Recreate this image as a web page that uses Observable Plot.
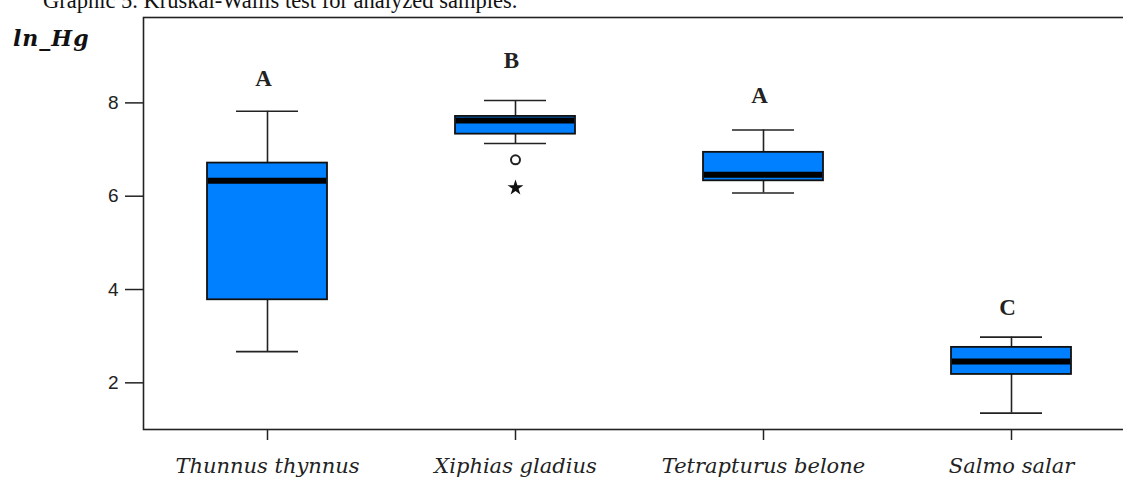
<!DOCTYPE html>
<html><head><meta charset="utf-8">
<script src="https://cdn.jsdelivr.net/npm/d3@7"></script>
<script src="https://cdn.jsdelivr.net/npm/@observablehq/plot@0.6"></script>
<style>
html,body{margin:0;padding:0;background:#fff;overflow:hidden;}
#wrap{position:relative;width:1123px;height:484px;overflow:hidden;background:#fff;}
#chart{position:absolute;left:0;top:0;width:1140px;}
#chart svg{max-width:none !important;width:1140px !important;height:484px !important;}
#title{position:absolute;left:43px;top:-10px;font-family:"Liberation Serif",serif;font-size:22.5px;line-height:22px;white-space:nowrap;color:#111;}
#ylab{position:absolute;left:13px;top:27px;font-family:"DejaVu Serif",serif;font-weight:bold;font-style:italic;font-size:22px;line-height:22px;letter-spacing:1px;white-space:nowrap;color:#111;}
</style></head>
<body>
<div id="wrap">
  <div id="chart"></div>
  <div id="title">Graphic 5. Kruskal-Wallis test for analyzed samples.</div>
  <div id="ylab">ln_Hg</div>
</div>
<script>
// Data
const species = ["Thunnus thynnus", "Xiphias gladius", "Tetrapturus belone", "Salmo salar"];
const whiskerLow  = [2.67, 7.13, 6.07, 1.35];
const q1          = [3.78, 7.33, 6.33, 2.18];
const median      = [6.33, 7.62, 6.46, 2.46];
const q3          = [6.71, 7.71, 6.94, 2.76];
const whiskerHigh = [7.82, 8.05, 7.42, 2.98];
const groupLetters = ["A", "B", "A", "C"];
const letterY      = [8.53, 8.90, 8.15, 3.62];
const outlierSpecies = ["Xiphias gladius"];
const outlierValues  = [6.78];
const extremeSpecies = ["Xiphias gladius"];
const extremeValues  = [6.18];
const yTicks = [2, 4, 6, 8];
const yDomain = [1, 9.83];

const boxes = species.map((s, i) => ({
  species: s, lo: whiskerLow[i], q1: q1[i], med: median[i], q3: q3[i], hi: whiskerHigh[i],
  letter: groupLetters[i], ly: letterY[i]
}));
const outliers = outlierSpecies.map((s, i) => ({species: s, value: outlierValues[i]}));
const extremes = extremeSpecies.map((s, i) => ({species: s, value: extremeValues[i]}));

const chart = Plot.plot({
  width: 1140,
  height: 484,
  marginLeft: 143,
  marginRight: 5,
  marginTop: 17,
  marginBottom: 55,
  style: {color: "#222", background: "transparent", maxWidth: "none"},
  x: {domain: species, padding: 0, label: null},
  y: {domain: yDomain, label: null},
  marks: [
    Plot.frame({stroke: "#222", strokeWidth: 1.6}),
    Plot.axisY({ticks: yTicks, tickSize: 18, tickPadding: 7, fontSize: 19, fontFamily: "Liberation Sans, Arial, sans-serif", strokeWidth: 1.5, label: null}),
    Plot.axisX({tickSize: 11, tickPadding: 18, fontSize: 21, fontFamily: "DejaVu Serif, serif", fontStyle: "italic", strokeWidth: 1.5, label: null}),
    Plot.ruleX(boxes, {x: "species", y1: "lo", y2: "q1", stroke: "#222", strokeWidth: 1.6}),
    Plot.ruleX(boxes, {x: "species", y1: "q3", y2: "hi", stroke: "#222", strokeWidth: 1.6}),
    Plot.tickY(boxes, {x: "species", y: "lo", stroke: "#222", strokeWidth: 1.6, insetLeft: 93, insetRight: 93}),
    Plot.tickY(boxes, {x: "species", y: "hi", stroke: "#222", strokeWidth: 1.6, insetLeft: 93, insetRight: 93}),
    Plot.barY(boxes, {x: "species", y1: "q1", y2: "q3", fill: "#0080ff", stroke: "#111", strokeWidth: 1.8, insetLeft: 64, insetRight: 64}),
    Plot.tickY(boxes, {x: "species", y: "med", stroke: "#000", strokeWidth: 6, insetLeft: 65, insetRight: 65}),
    Plot.text(boxes, {x: "species", y: "ly", text: "letter", fontSize: 23, fontWeight: "bold", fontFamily: "Liberation Serif, serif", fill: "#222", dx: -4}),
    Plot.dot(outliers, {x: "species", y: "value", r: 4.5, stroke: "#222", strokeWidth: 2, fill: "none"}),
    Plot.dot(extremes, {x: "species", y: "value", symbol: "star", r: 5, fill: "#111", stroke: "none"})
  ]
});
document.getElementById("chart").appendChild(chart);
</script>
</body></html>
